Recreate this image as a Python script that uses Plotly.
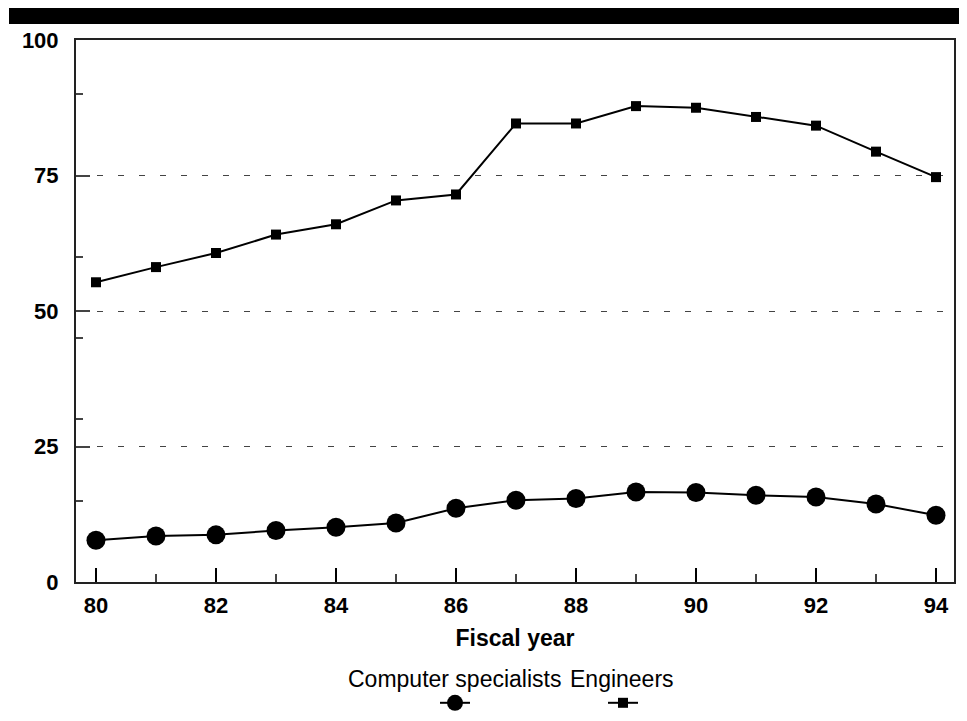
import plotly.graph_objects as go

years = list(range(80, 95))
computer_specialists = [7.7, 8.5, 8.7, 9.5, 10.1, 10.9, 13.6, 15.1, 15.4, 16.6, 16.5, 16.0, 15.7, 14.4, 12.3]
engineers = [55.3, 58.1, 60.7, 64.1, 66.0, 70.4, 71.5, 84.6, 84.6, 87.8, 87.5, 85.8, 84.2, 79.4, 74.7]
series_names = ["Computer specialists", "Engineers"]
x_tick_vals = [80, 82, 84, 86, 88, 90, 92, 94]
y_tick_vals = [0, 25, 50, 75, 100]
x_title = "Fiscal year"

FONT = "Liberation Sans, Arial, sans-serif"

fig = go.Figure()
fig.add_trace(go.Scatter(
    x=years, y=computer_specialists, mode="lines+markers", name=" ",
    line=dict(color="black", width=2),
    marker=dict(symbol="circle", size=19, color="black"),
))
fig.add_trace(go.Scatter(
    x=years, y=engineers, mode="lines+markers", name=" ",
    line=dict(color="black", width=2),
    marker=dict(symbol="square", size=10, color="black"),
))

# page body has an 8px margin; figure is sized to fit the 967x721 window
OFF = 8
W, H = 967 - 2 * OFF, 721 - 2 * OFF
L, T = 76 - OFF, 40 - OFF
R = W - (954 - OFF)
B = H - (582 - OFF)
pw, ph = W - L - R, H - T - B

def px(xs):
    return (xs - OFF - L) / pw

def py(ys):
    return (H - B - (ys - OFF)) / ph

fig.update_layout(
    width=W, height=H,
    margin=dict(l=L, r=R, t=T, b=B, autoexpand=False),
    paper_bgcolor="white", plot_bgcolor="white",
    font=dict(family=FONT, color="black", size=22),
    showlegend=True,
    legend=dict(
        orientation="h", x=px(435), y=py(703), xanchor="left", yanchor="middle",
        entrywidth=123, entrywidthmode="pixels", itemsizing="trace",
        bgcolor="rgba(0,0,0,0)", font=dict(size=22),
    ),
    xaxis=dict(
        range=[79.667, 94.3], tickvals=x_tick_vals, ticktext=[str(v) for v in x_tick_vals],
        ticks="inside", ticklen=14, tickwidth=1.5, tickcolor="black",
        minor=dict(dtick=1, tick0=80, ticks="inside", ticklen=8, tickwidth=1.5, tickcolor="#444", showgrid=False),
        showline=True, linecolor="#222", linewidth=2, mirror=True,
        showgrid=False, zeroline=False,
        tickfont=dict(family=FONT, size=22, weight="bold"),
        ticklabelstandoff=3,
        title=dict(text=x_title, font=dict(family=FONT, size=23, weight="bold"), standoff=12),
    ),
    yaxis=dict(
        range=[0, 100], tickvals=y_tick_vals, ticktext=[str(v) for v in y_tick_vals],
        ticks="inside", ticklen=14, tickwidth=1.5, tickcolor="#444",
        minor=dict(dtick=15, tick0=0, ticks="inside", ticklen=7, tickwidth=1.5, tickcolor="#444", showgrid=False),
        showline=True, linecolor="#222", linewidth=2, mirror=True,
        showgrid=True, gridcolor="#444", gridwidth=1, griddash="6px,15px",
        zeroline=False,
        tickfont=dict(family=FONT, size=22, weight="bold"),
        ticklabelstandoff=11,
    ),
    shapes=[dict(type="rect", xref="paper", yref="paper",
                 x0=px(9), x1=px(975), y0=py(24), y1=py(6),
                 fillcolor="black", line=dict(width=0), layer="above")],
    annotations=[
        dict(text=series_names[0], xref="paper", yref="paper", x=px(454), y=py(679),
             xanchor="center", yanchor="middle", showarrow=False,
             font=dict(family=FONT, size=23, color="black")),
        dict(text=series_names[1], xref="paper", yref="paper", x=px(622), y=py(679),
             xanchor="center", yanchor="middle", showarrow=False,
             font=dict(family=FONT, size=23, color="black")),
    ],
)

fig.write_html("out.html")
